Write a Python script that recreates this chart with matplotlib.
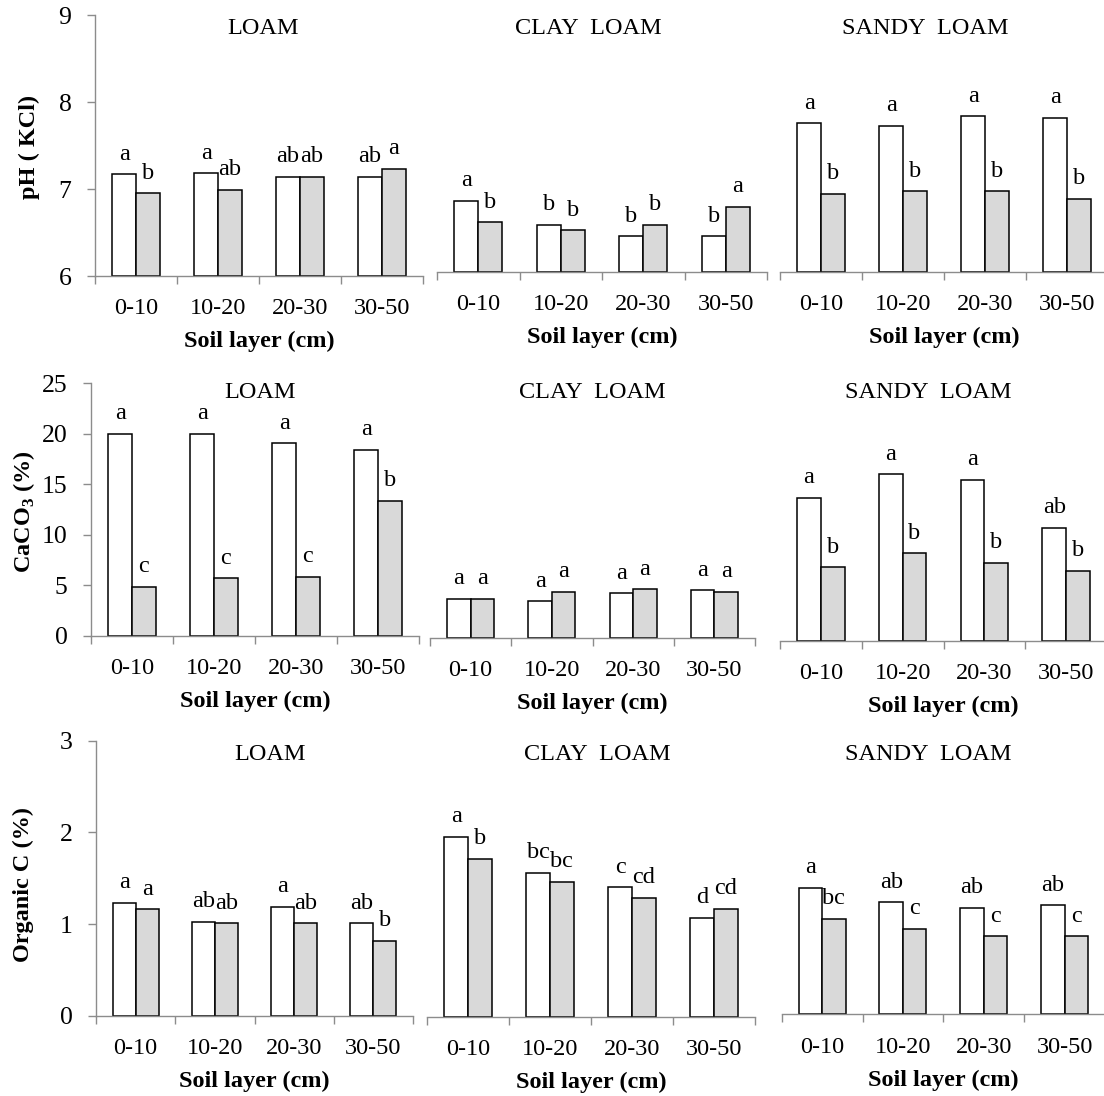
import matplotlib
matplotlib.use("Agg")
import matplotlib.pyplot as plt
import numpy as np

plt.rcParams['font.family'] = ['Liberation Serif', 'DejaVu Serif']
plt.rcParams['mathtext.fontset'] = 'custom'
plt.rcParams['mathtext.rm'] = 'Liberation Serif'
plt.rcParams['mathtext.bf'] = 'Liberation Serif:bold'

# ---------------- data ----------------
layers = ['0-10', '10-20', '20-30', '30-50']
soils = ['LOAM', 'CLAY  LOAM', 'SANDY  LOAM']

# pH (KCl)
ph_loam_white = [7.17, 7.18, 7.14, 7.14]
ph_loam_gray = [6.95, 6.99, 7.14, 7.23]
ph_clay_white = [6.82, 6.54, 6.41, 6.41]
ph_clay_gray = [6.57, 6.48, 6.54, 6.75]
ph_sandy_white = [7.71, 7.68, 7.79, 7.77]
ph_sandy_gray = [6.90, 6.93, 6.93, 6.84]
ph_loam_lab_w = ['a', 'a', 'ab', 'ab']
ph_loam_lab_g = ['b', 'ab', 'ab', 'a']
ph_clay_lab_w = ['a', 'b', 'b', 'b']
ph_clay_lab_g = ['b', 'b', 'b', 'a']
ph_sandy_lab_w = ['a', 'a', 'a', 'a']
ph_sandy_lab_g = ['b', 'b', 'b', 'b']

# CaCO3 (%)
ca_loam_white = [20.0, 20.0, 19.05, 18.4]
ca_loam_gray = [4.85, 5.68, 5.84, 13.37]
ca_clay_white = [3.86, 3.60, 4.40, 4.69]
ca_clay_gray = [3.86, 4.55, 4.79, 4.55]
ca_sandy_white = [14.19, 16.5, 15.94, 11.2]
ca_sandy_gray = [7.30, 8.68, 7.75, 6.93]
ca_loam_lab_w = ['a', 'a', 'a', 'a']
ca_loam_lab_g = ['c', 'c', 'c', 'b']
ca_clay_lab_w = ['a', 'a', 'a', 'a']
ca_clay_lab_g = ['a', 'a', 'a', 'a']
ca_sandy_lab_w = ['a', 'a', 'a', 'ab']
ca_sandy_lab_g = ['b', 'b', 'b', 'b']

# Organic C (%)
oc_loam_white = [1.23, 1.025, 1.19, 1.01]
oc_loam_gray = [1.16, 1.01, 1.01, 0.82]
oc_clay_white = [1.96, 1.57, 1.41, 1.08]
oc_clay_gray = [1.72, 1.47, 1.30, 1.18]
oc_sandy_white = [1.38, 1.22, 1.16, 1.19]
oc_sandy_gray = [1.04, 0.93, 0.85, 0.85]
oc_loam_lab_w = ['a', 'ab', 'a', 'ab']
oc_loam_lab_g = ['a', 'ab', 'ab', 'b']
oc_clay_lab_w = ['a', 'bc', 'c', 'd']
oc_clay_lab_g = ['b', 'bc', 'cd', 'cd']
oc_sandy_lab_w = ['a', 'ab', 'ab', 'ab']
oc_sandy_lab_g = ['bc', 'c', 'c', 'c']

rows = [
    dict(ylabel='pH ( KCl)', ylim=(6, 9), yticks=[6, 7, 8, 9],
         white=[ph_loam_white, ph_clay_white, ph_sandy_white],
         gray=[ph_loam_gray, ph_clay_gray, ph_sandy_gray],
         labw=[ph_loam_lab_w, ph_clay_lab_w, ph_sandy_lab_w],
         labg=[ph_loam_lab_g, ph_clay_lab_g, ph_sandy_lab_g]),
    dict(ylabel=r'CaCO$_\mathbf{3}$ (%)', ylim=(0, 25), yticks=[0, 5, 10, 15, 20, 25],
         white=[ca_loam_white, ca_clay_white, ca_sandy_white],
         gray=[ca_loam_gray, ca_clay_gray, ca_sandy_gray],
         labw=[ca_loam_lab_w, ca_clay_lab_w, ca_sandy_lab_w],
         labg=[ca_loam_lab_g, ca_clay_lab_g, ca_sandy_lab_g]),
    dict(ylabel='Organic C (%)', ylim=(0, 3), yticks=[0, 1, 2, 3],
         white=[oc_loam_white, oc_clay_white, oc_sandy_white],
         gray=[oc_loam_gray, oc_clay_gray, oc_sandy_gray],
         labw=[oc_loam_lab_w, oc_clay_lab_w, oc_sandy_lab_w],
         labg=[oc_loam_lab_g, oc_clay_lab_g, oc_sandy_lab_g]),
]

# ---------------- layout (pixels) ----------------
W, H = 1104, 1096
row_heights = [261, 252.4, 275]
boxes = [
    [(95, 423, 276), (437, 767, 272), (780, 1108, 272)],
    [(91, 419, 635.7), (430, 755, 637.7), (780, 1107, 641)],
    [(96, 413, 1015.7), (427, 755, 1016.7), (781.7, 1105, 1014.3)],
]
title_pos = [
    [(263, 28), (588, 28), (925, 28)],
    [(260, 393), (592, 393), (928, 393)],
    [(270, 755), (597, 755), (928, 755)],
]
ylabel_pos = [(29, 147), (24, 512), (23, 885)]

FS = 17.5
SPINE = '#8c8c8c'
GRAY = '#d9d9d9'
bw = 0.29

fig = plt.figure(figsize=(W / 100, H / 100), dpi=100)

x = np.arange(1, 5)
for r, row in enumerate(rows):
    ymin, ymax = row['ylim']
    for c in range(3):
        x0, x1, base = boxes[r][c]
        h = row_heights[r]
        ax = fig.add_axes([x0 / W, 1 - base / H, (x1 - x0) / W, h / H])
        ax.set_xlim(0.5, 4.5)
        ax.set_ylim(ymin, ymax)
        wv = np.array(row['white'][c])
        gv = np.array(row['gray'][c])
        ax.bar(x - bw / 2, wv - ymin, bottom=ymin, width=bw, color='white',
               edgecolor='black', linewidth=1.1, zorder=2)
        ax.bar(x + bw / 2, gv - ymin, bottom=ymin, width=bw, color=GRAY,
               edgecolor='black', linewidth=1.1, zorder=2)
        for i in range(4):
            ax.annotate(row['labw'][c][i], (x[i] - bw / 2, wv[i]), xytext=(0, 10.5),
                        textcoords='offset points', ha='center', va='baseline',
                        fontsize=FS, annotation_clip=False)
            ax.annotate(row['labg'][c][i], (x[i] + bw / 2, gv[i]), xytext=(0, 10.5),
                        textcoords='offset points', ha='center', va='baseline',
                        fontsize=FS, annotation_clip=False)
        for s in ['top', 'right']:
            ax.spines[s].set_visible(False)
        ax.spines['bottom'].set_color(SPINE)
        ax.spines['bottom'].set_linewidth(1.0)
        ax.spines['bottom'].set_zorder(3)
        ax.set_xticks([0.5, 1.5, 2.5, 3.5, 4.5])
        ax.set_xticklabels([])
        ax.tick_params(axis='x', which='major', direction='out', length=6,
                       color=SPINE, width=1.0)
        ax.set_xticks(x, minor=True)
        ax.set_xticklabels(layers, minor=True, fontsize=FS)
        ax.tick_params(axis='x', which='minor', length=0, pad=16)
        ax.set_xlabel('Soil layer (cm)', fontsize=FS, fontweight='bold', labelpad=8.5)
        if c == 0:
            ax.spines['left'].set_color(SPINE)
            ax.spines['left'].set_linewidth(1.0)
            ax.set_yticks(row['yticks'])
            ax.set_yticklabels([str(t) for t in row['yticks']], fontsize=FS + 1)
            ax.tick_params(axis='y', direction='out', length=6, color=SPINE,
                           width=1.0, pad=11)
            lx, ly = ylabel_pos[r]
            fig.text(lx / W, 1 - ly / H, row['ylabel'], rotation=90, ha='center',
                     va='center', fontsize=FS, fontweight='bold')
        else:
            ax.spines['left'].set_visible(False)
            ax.set_yticks([])
        tx, ty = title_pos[r][c]
        fig.text(tx / W, 1 - ty / H, soils[c], ha='center', va='center', fontsize=FS)

fig.savefig('out.png', dpi=100)
